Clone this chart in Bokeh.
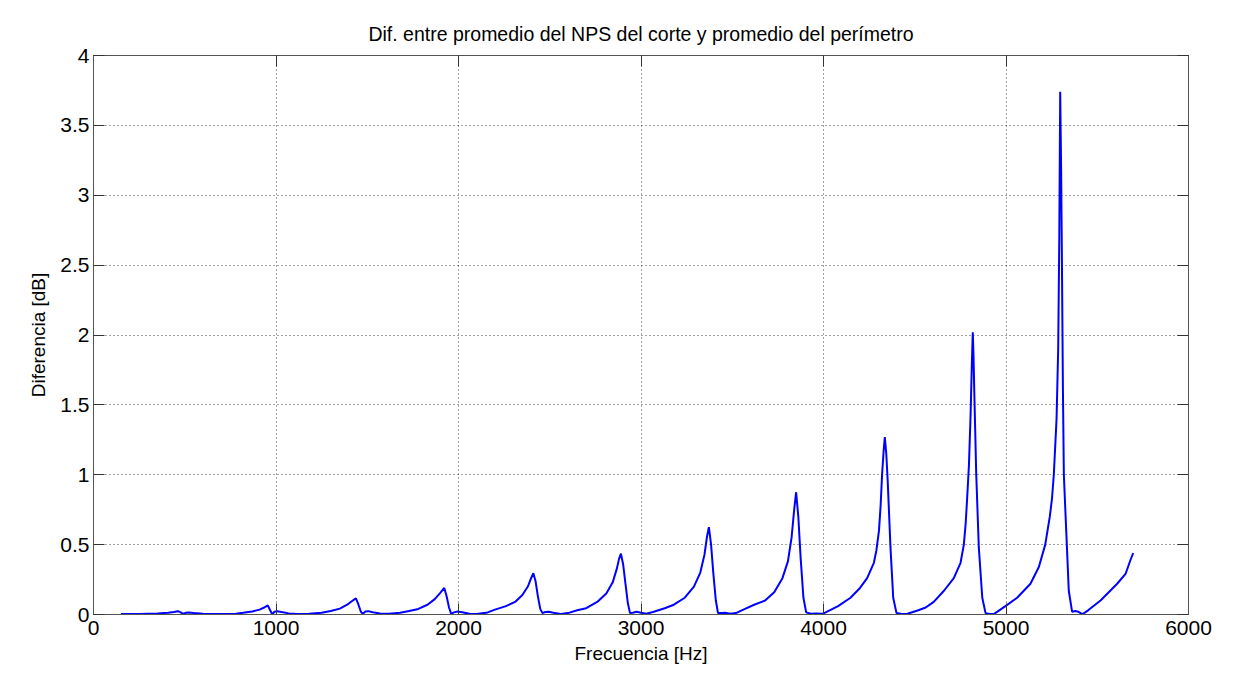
from bokeh.plotting import figure
from bokeh.models import LinearAxis, FixedTicker, NumeralTickFormatter, Range1d, ColumnDataSource
from bokeh.embed import file_html
from bokeh.resources import INLINE

# ---- data ----
freq_hz = [
    150, 250, 350, 410, 440, 463, 478, 490, 505, 520, 550, 600, 700, 780,
    820, 870, 910, 935, 955, 968, 979, 992, 1005, 1030, 1070, 1120, 1180, 1250,
    1300, 1350, 1390, 1415, 1438, 1452, 1465, 1476, 1490, 1505, 1530, 1570, 1620, 1680,
    1730, 1780, 1830, 1870, 1900, 1922, 1935, 1948, 1960, 1975, 1995, 2020, 2060, 2100, 2160,
    2200, 2260, 2310, 2350, 2380, 2398, 2410, 2422, 2435, 2448, 2460, 2475, 2495, 2520, 2560, 2600, 2650,
    2700, 2760, 2810, 2845, 2868, 2880, 2890, 2902, 2915, 2928, 2940, 2955, 2975, 3000, 3030, 3070, 3130,
    3180, 3240, 3290, 3325, 3348, 3362, 3372, 3384, 3396, 3410, 3422, 3440, 3460, 3490, 3520, 3570, 3620,
    3680, 3730, 3775, 3805, 3825, 3840, 3850, 3862, 3875, 3890, 3905, 3930, 3960, 3995, 4020, 4080,
    4148, 4200, 4239, 4276, 4290, 4304, 4313, 4321, 4330, 4336, 4344, 4352, 4367, 4382, 4400, 4430, 4460, 4520, 4560,
    4604, 4660, 4714, 4751, 4769, 4779, 4787, 4797, 4806, 4813, 4818, 4822, 4827, 4837, 4851, 4870, 4888, 4910, 4935,
    4997, 5061, 5134, 5180, 5215, 5240, 5252, 5262, 5277, 5286, 5292, 5297, 5302, 5306, 5312, 5317, 5330, 5344,
    5362, 5380, 5395, 5418, 5450, 5518, 5609, 5655, 5682, 5697,
]
diff_db = [
    0.003, 0.004, 0.007, 0.012, 0.018, 0.024, 0.015, 0.004, 0.012, 0.015, 0.010, 0.005, 0.004, 0.006,
    0.012, 0.022, 0.035, 0.050, 0.065, 0.030, 0.002, 0.020, 0.024, 0.018, 0.008, 0.004, 0.005, 0.012,
    0.025, 0.042, 0.070, 0.095, 0.115, 0.070, 0.020, 0.006, 0.022, 0.024, 0.016, 0.007, 0.005, 0.012,
    0.025, 0.040, 0.070, 0.110, 0.155, 0.190, 0.130, 0.050, 0.005, 0.015, 0.022, 0.016, 0.005, 0.003, 0.015,
    0.035, 0.060, 0.090, 0.140, 0.200, 0.260, 0.295, 0.240, 0.130, 0.040, 0.010, 0.018, 0.020, 0.012, 0.004, 0.010, 0.030,
    0.045, 0.090, 0.150, 0.230, 0.330, 0.400, 0.435, 0.360, 0.220, 0.080, 0.010, 0.012, 0.020, 0.012, 0.005, 0.020, 0.045,
    0.070, 0.120, 0.200, 0.300, 0.430, 0.560, 0.625, 0.500, 0.300, 0.100, 0.010, 0.010, 0.012, 0.005, 0.010, 0.040, 0.070,
    0.100, 0.160, 0.260, 0.380, 0.550, 0.760, 0.875, 0.700, 0.400, 0.120, 0.015, 0.005, 0.008, 0.005, 0.020, 0.060,
    0.120, 0.190, 0.260, 0.370, 0.460, 0.600, 0.780, 1.000, 1.180, 1.270, 1.150, 0.950, 0.480, 0.120, 0.010, 0.003, 0.005, 0.030, 0.050,
    0.090, 0.170, 0.260, 0.370, 0.500, 0.650, 0.830, 1.070, 1.430, 1.800, 2.020, 1.850, 1.550, 1.000, 0.480, 0.120, 0.010, 0.003, 0.005,
    0.060, 0.120, 0.220, 0.340, 0.500, 0.700, 0.830, 1.000, 1.400, 1.900, 2.700, 3.740, 3.200, 2.600, 1.600, 1.000, 0.600, 0.170,
    0.020, 0.025, 0.020, 0.002, 0.030, 0.100, 0.220, 0.290, 0.390, 0.440,
]
x_ticks = [0, 1000, 2000, 3000, 4000, 5000, 6000]
y_ticks = [0, 0.5, 1, 1.5, 2, 2.5, 3, 3.5, 4]

title_text = "Dif. entre promedio del NPS del corte y promedio del perímetro"
x_label = "Frecuencia [Hz]"
y_label = "Diferencia [dB]"

FONT = "Liberation Sans"
AX_COL = "#555555"

p = figure(
    width=1230, height=675,
    x_range=Range1d(0, 6000), y_range=Range1d(0, 4),
    output_backend="svg", toolbar_location=None,
    x_axis_location=None, y_axis_location=None,
    min_border_left=93, min_border_right=42, min_border_top=55, min_border_bottom=61,
    background_fill_color="white", border_fill_color="white",
    title=title_text,
)
p.outline_line_color = AX_COL
p.title.align = "center"
p.title.text_font = FONT
p.title.text_font_size = "19.5px"
p.title.text_font_style = "normal"
p.title.text_color = "#000000"
p.title.standoff = 22


def make_axis(ticks, fmt=None, show_labels=True, label=None):
    ax = LinearAxis(ticker=FixedTicker(ticks=ticks))
    if fmt is not None:
        ax.formatter = fmt
    ax.axis_line_color = AX_COL
    ax.major_tick_line_color = "#333333"
    ax.major_tick_in = 11
    ax.major_tick_out = 0
    ax.minor_tick_in = 0
    ax.minor_tick_out = 0
    ax.major_label_text_font = FONT
    ax.major_label_text_color = "#000000"
    ax.major_label_text_font_size = "21px"
    if not show_labels:
        ax.major_label_overrides = {t: "" for t in ticks}
        ax.major_label_standoff = 0
    if label:
        ax.axis_label = label
        ax.axis_label_text_font = FONT
        ax.axis_label_text_font_size = "19px"
        ax.axis_label_text_font_style = "normal"
        ax.axis_label_text_color = "#000000"
    return ax


xb = make_axis(x_ticks, NumeralTickFormatter(format="0"), True, x_label)
xb.major_label_standoff = 6
xb.axis_label_standoff = 5
p.add_layout(xb, "below")

yl = make_axis(y_ticks, NumeralTickFormatter(format="0.[0]"), True, y_label)
yl.major_label_standoff = 4
yl.axis_label_standoff = 8
p.add_layout(yl, "left")

p.add_layout(make_axis(x_ticks, None, False), "above")
p.add_layout(make_axis(y_ticks, None, False), "right")

p.xgrid.ticker = FixedTicker(ticks=x_ticks)
p.ygrid.ticker = FixedTicker(ticks=y_ticks)
for g in (p.xgrid, p.ygrid):
    g.grid_line_color = "#444444"
    g.grid_line_dash = "1 3"
    g.grid_line_width = 1

src = ColumnDataSource(data=dict(f=freq_hz, d=diff_db))
p.line("f", "d", source=src, line_color="#0000ff", line_width=2)

open("out.html", "w").write(file_html(p, INLINE))
